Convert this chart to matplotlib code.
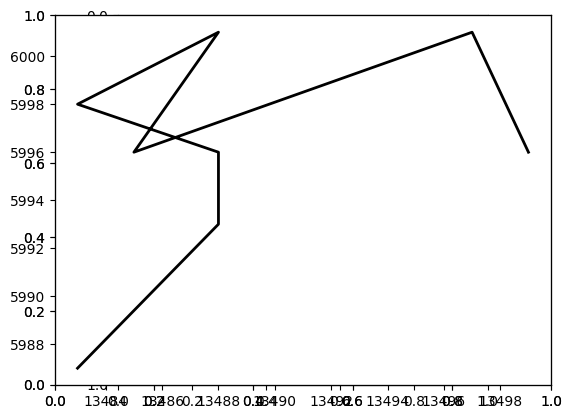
import matplotlib
matplotlib.use("Agg")
import matplotlib.pyplot as plt

# data
x_vals = [13483, 13488, 13488, 13483, 13488, 13485, 13497, 13499]
y_vals = [5987, 5993, 5996, 5998, 6001, 5996, 6001, 5996]

fig = plt.figure(figsize=(5.72, 4.18), dpi=100)
rect = [55 / 572, 33 / 418, 496 / 572, 369.6 / 418]

# square image-like axes (inverted y), mostly hidden behind the others
ax_img = fig.add_axes(rect)
ax_img.set_xlim(0, 1)
ax_img.set_ylim(1, 0)
ax_img.set_aspect("equal", adjustable="box")

# two default 0..1 axes
ax_a = fig.add_axes(rect)
ax_a.set_facecolor("white")
ax_b = fig.add_axes(rect)
ax_b.set_facecolor("none")

# data axes
ax = fig.add_axes(rect)
ax.set_facecolor("none")
ax.plot(x_vals, y_vals, color="black", linewidth=2)

fig.savefig("out.png", dpi=100)
